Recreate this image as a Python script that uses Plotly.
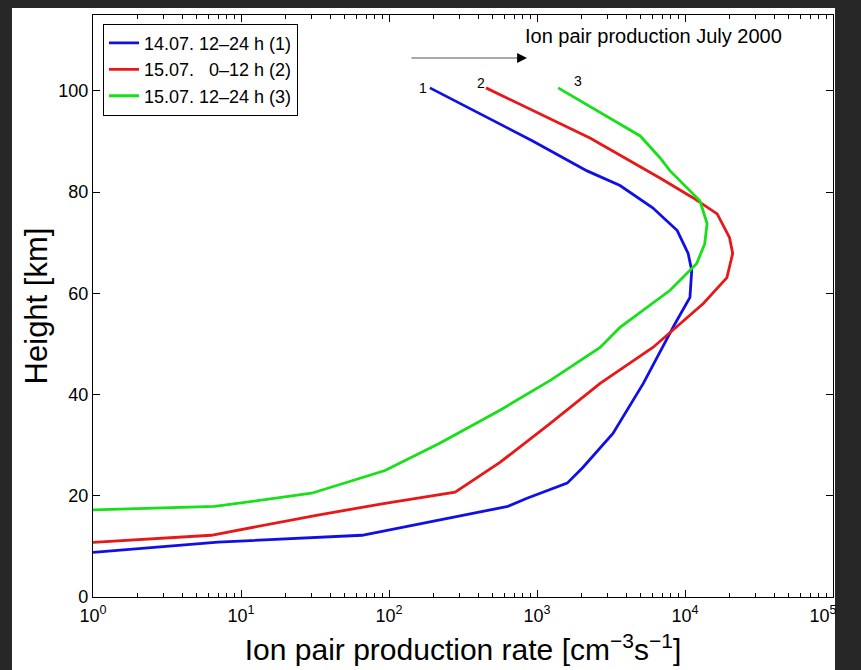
import numpy as np
import plotly.graph_objects as go

# ---- data ----
blue_x = [1.0, 7.0, 65.7, 635, 856, 1600, 2040, 3260, 5230, 7930, 8560, 10800, 11100, 10500, 8860, 6050, 3640, 2180, 935, 189]
blue_y = [8.8, 10.85, 12.2, 17.9, 19.5, 22.5, 25.6, 32.3, 42.2, 52.1, 54.0, 59.2, 64.5, 67.9, 72.4, 76.9, 81.3, 84.2, 90.1, 100.6]

red_x = [1.0, 6.3, 33, 94, 280, 562, 1230, 2670, 6070, 9270, 13300, 19200, 21000, 20000, 16500, 11300, 6770, 2280, 452]
red_y = [10.8, 12.2, 16.2, 18.5, 20.7, 26.6, 34.3, 42.2, 49.3, 54.0, 58.0, 63.1, 67.9, 71.0, 75.7, 78.9, 82.8, 90.7, 100.6]

green_x = [1.0, 6.65, 30, 94, 220, 562, 1230, 2670, 3640, 7930, 12000, 13600, 14100, 12600, 7930, 6770, 4980, 1390]
green_y = [17.2, 17.9, 20.5, 25.0, 30.4, 36.9, 42.8, 49.3, 53.3, 60.6, 65.9, 69.8, 73.8, 78.3, 84.2, 86.8, 91.1, 100.6]

series_names = ["14.07. 12–24 h (1)", "15.07. \u20070–12 h (2)", "15.07. 12–24 h (3)"]
series_tags = ["1", "2", "3"]
series_colors = ["#1010e6", "#e81818", "#18e018"]

x_tickvals = [1, 10, 100, 1000, 10000, 100000]
x_ticktext = ["10<sup>0</sup>", "10<sup>1</sup>", "10<sup>2</sup>", "10<sup>3</sup>",
              "10<sup>4</sup>", "10<sup>5</sup>\u2007\u2007"]
y_tickvals = [0, 20, 40, 60, 80, 100]

title_text = "Ion pair production July 2000"
x_title = "Ion pair production rate [cm<sup>−3</sup>s<sup>−1</sup>]"
y_title = "Height [km]"

FONT = "Liberation Sans, Arial, Helvetica, sans-serif"

fig = go.Figure()
all_x = [blue_x, red_x, green_x]
all_y = [blue_y, red_y, green_y]
for xs, ys, name, col in zip(all_x, all_y, series_names, series_colors):
    fig.add_trace(go.Scatter(x=xs, y=ys, mode="lines", name=name,
                             line=dict(color=col, width=2.8)))

# curve number labels at the top ends of the curves
tag_shift = [(-7, 0), (-5, 5), (20, 7)]
for xs, ys, tag, (dx, dy) in zip(all_x, all_y, series_tags, tag_shift):
    fig.add_annotation(x=np.log10(xs[-1]), y=ys[-1], text=tag, showarrow=False,
                       xshift=dx, yshift=dy, font=dict(family=FONT, size=14, color="black"))

# title text inside the plot
fig.add_annotation(x=np.log10(804), y=110.8, text=title_text, showarrow=False,
                   xanchor="left", yanchor="middle",
                   font=dict(family=FONT, size=20, color="black"))
# arrow: black head, grey shaft
fig.add_annotation(x=np.log10(856), y=106.5, ax=-14, ay=0, xref="x", yref="y", text="",
                   showarrow=True, arrowhead=2, arrowsize=1.1, arrowwidth=1.8,
                   arrowcolor="black")
fig.add_annotation(x=np.log10(733), y=106.5, ax=-107, ay=0, xref="x", yref="y", text="",
                   showarrow=True, arrowhead=0, arrowwidth=2, arrowcolor="#a8a8a8")

# white page area on a dark surround
fig.add_shape(type="rect", xref="paper", yref="paper", x0=-0.1095, x1=1.0027,
              y0=-0.2, y1=1.012, fillcolor="white", line=dict(width=0), layer="below")

fig.update_layout(
    width=861, height=670,
    margin=dict(l=93, r=28, t=15, b=73, autoexpand=False),
    paper_bgcolor="#272727", plot_bgcolor="white",
    font=dict(family=FONT, size=18, color="black"),
    showlegend=True,
    legend=dict(x=0.0135, y=0.985, xanchor="left", yanchor="top",
                bgcolor="white", bordercolor="black", borderwidth=1,
                font=dict(family=FONT, size=18, color="black"),
                tracegroupgap=0, itemwidth=30),
)
fig.update_xaxes(type="log", range=[0, 5], tickmode="array", tickvals=x_tickvals,
                 ticktext=x_ticktext, ticks="inside", ticklen=7, tickcolor="black",
                 showline=True, linecolor="black", linewidth=1.2, mirror="ticks",
                 showgrid=False, zeroline=False, ticklabelstandoff=2,
                 tickfont=dict(family=FONT, size=18, color="black"),
                 minor=dict(ticks="inside", ticklen=4, tickcolor="black", dtick="D1", showgrid=False),
                 title=dict(text=x_title, font=dict(family=FONT, size=30, color="black"), standoff=14))
fig.update_yaxes(range=[0, 115], tickmode="array", tickvals=y_tickvals,
                 ticks="inside", ticklen=7, tickcolor="black",
                 showline=True, linecolor="black", linewidth=1.2, mirror="ticks",
                 showgrid=False, zeroline=False, ticklabelstandoff=0,
                 tickfont=dict(family=FONT, size=18, color="black"),
                 title=dict(text=y_title, font=dict(family=FONT, size=31, color="black"), standoff=1))

fig.write_html("out.html")
